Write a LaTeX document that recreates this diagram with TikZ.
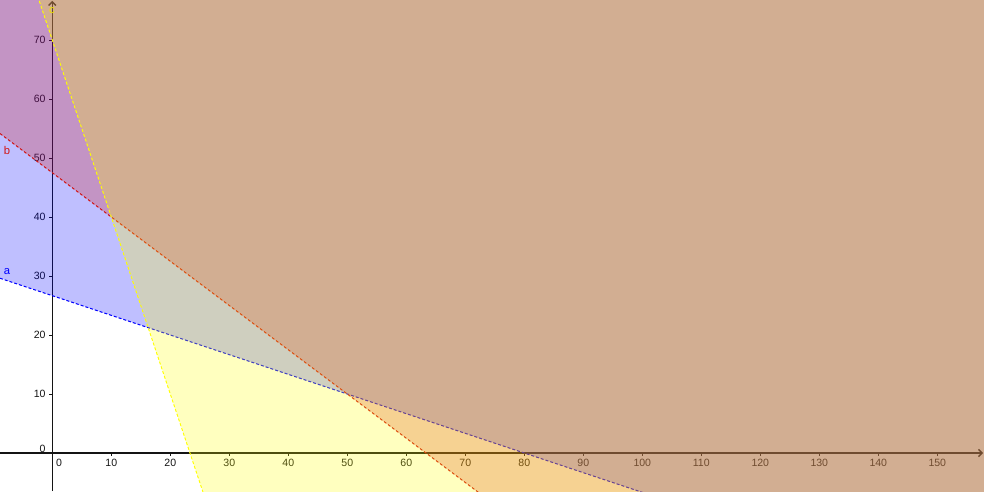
\documentclass[tikz,border=0pt]{standalone}
\usepackage{fontspec}
\setmainfont{Liberation Sans}
\usetikzlibrary{arrows.meta}
\definecolor{ablue}{RGB}{0,0,255}
\definecolor{bred}{RGB}{210,20,20}
\definecolor{cyel}{RGB}{255,255,0}
\definecolor{clab}{RGB}{235,225,0}
\definecolor{axcol}{RGB}{20,20,20}
\begin{document}
\begin{tikzpicture}[x=1.475mm,y=1.475mm,
  lbl/.style={font=\fontsize{7.5}{9}\selectfont, inner sep=0pt, text=axcol},
  linelbl/.style={font=\fontsize{8}{9}\selectfont, inner sep=0pt},
  axisline/.style={line width=0.35mm, draw=axcol},
  tickmark/.style={line width=0.25mm, draw=axcol},
  region/.style={fill opacity=0.25},
  bound/.style={line width=0.25mm, dash pattern=on 0.75mm off 0.5mm}]
\def\xmn{-8.864} \def\xmx{157.916} \def\ymn{-6.441} \def\ymx{76.78}
\useasboundingbox (\xmn,\ymn) rectangle (\xmx,\ymx);
\clip (\xmn,\ymn) rectangle (\xmx,\ymx);
\fill[white] (\xmn,\ymn) rectangle (\xmx,\ymx);
% coordinates
\coordinate (O) at (0,0);
\coordinate (xa0) at (\xmn,0);
\coordinate (xa1) at (\xmx-0.15,0);
\coordinate (ya0) at (0,\ymn);
\coordinate (ya1) at (0,\ymx-0.15);
\coordinate (a1) at (-8.864,29.621);
\coordinate (a2) at (157.916,-25.972);
\coordinate (b1) at (-8.864,54.148);
\coordinate (b2) at (157.916,-70.937);
\coordinate (c1) at (-3,79);
\coordinate (c2) at (30,-20);
% axes (under the fills)
\draw[axisline,-{Straight Barb[length=0.9mm,width=1.8mm]}] (xa0) -- (xa1);
\draw[axisline,-{Straight Barb[length=0.9mm,width=1.8mm]}] (ya0) -- (ya1);
\foreach \k in {10,20,...,150}{
  \coordinate (xt\k) at (\k,0);
  \draw[tickmark] (xt\k) -- ++(0,-0.5);
  \node[lbl,anchor=north] (xl\k) at (\k,-1.0) {\k};
}
\foreach \k in {10,20,...,70}{
  \coordinate (yt\k) at (0,\k);
  \draw[tickmark] (yt\k) -- ++(-0.5,0);
  \node[lbl,anchor=east] (yl\k) at (-1.1,\k) {\k};
}
\node[lbl,anchor=north] (xl0) at (1.13,-1.0) {0};
\node[lbl,anchor=east] (yl0) at (-1.12,0.73) {0};
% half-plane a: x + 3y >= 80
\fill[ablue,region] (a1) -- (a2) -- (\xmx,\ymx) -- (\xmn,\ymx) -- cycle;
\draw[ablue,bound] (a1) -- (a2);
% half-plane b: 3x + 4y >= 190
\fill[bred,region] (b1) -- (b2) -- (\xmx,\ymx) -- (\xmn,\ymx) -- cycle;
\draw[bred,bound] (b1) -- (b2);
% half-plane c: 3x + y >= 70
\fill[cyel,region] (c1) -- (c2) -- (160,-20) -- (160,79) -- cycle;
\draw[cyel,bound] (c1) -- (c2);
% labels
\node[linelbl,text=ablue] (la) at (-7.68,30.73) {a};
\node[linelbl,text=bred] (lb) at (-7.68,51.24) {b};
\node[linelbl,text=clab] (lc) at (-0.05,75.0) {c};
\end{tikzpicture}
\end{document}
